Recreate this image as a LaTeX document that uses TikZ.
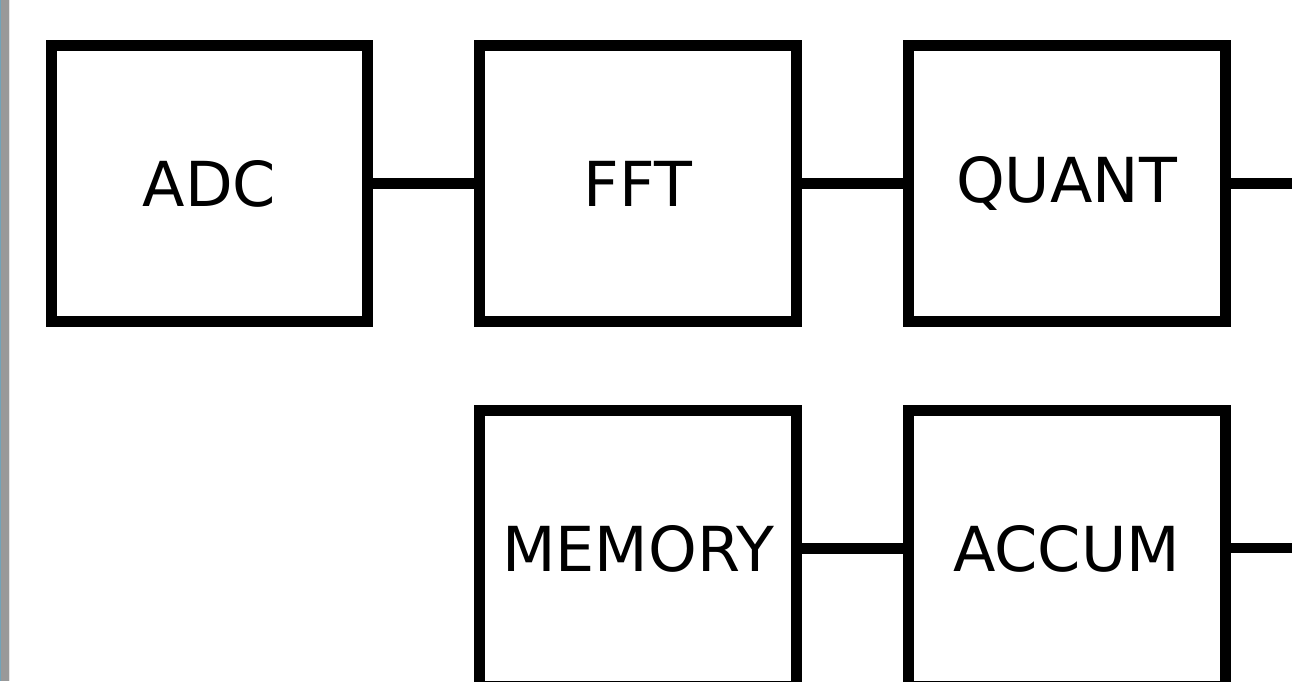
\documentclass[tikz,border=0pt]{standalone}
\usepackage{fontspec}
\setmainfont{DejaVu Sans}
\begin{document}
\begin{tikzpicture}[x=1pt,y=-1pt,
  blockbox/.style={draw=black, line width=11pt, minimum width=317pt, minimum height=276pt, inner sep=0pt, font=\fontsize{62}{74}\selectfont},
  link/.style={draw=black, line width=10.5pt}]
\useasboundingbox (0,0) rectangle (1292,681);
\clip (0,0) rectangle (1292,681);
\fill[white] (0,0) rectangle (1292,681);
\fill[gray!80] (0,0) rectangle (9,681);
\fill[cyan!40!gray] (0,0) rectangle (1,681);
\fill[gray!20] (9,0) rectangle (10,681);
\node[blockbox, minimum width=316pt] (adc) at (209.5,183.5) {ADC};
\node[blockbox] (fft) at (638,183.5) {FFT};
\node[blockbox] (quant) at (1066.5,183.5) {QUANT};
\node[blockbox] (mem) at (638,548.5) {MEMORY};
\node[blockbox] (acc) at (1066.5,548.5) {ACCUM};
\coordinate (q out) at (1292,183.5);
\coordinate (a out) at (1292,548);
\draw[link] (adc.east) -- (fft.west);
\draw[link] (fft.east) -- (quant.west);
\draw[link] (quant.east) -- (q out);
\draw[link] (mem.east) -- (acc.west);
\draw[link] (acc.east |- a out) -- (a out);
\end{tikzpicture}
\end{document}
